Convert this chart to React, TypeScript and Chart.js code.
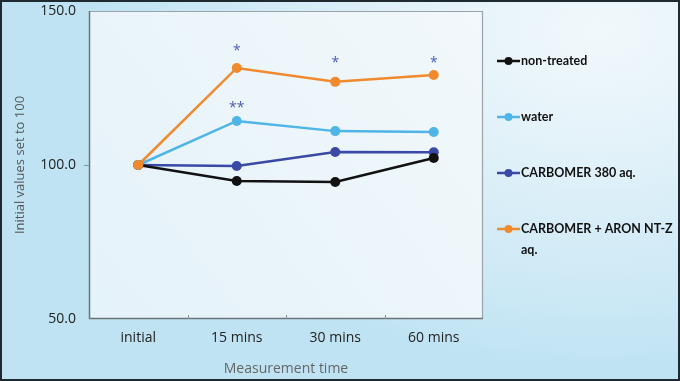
import { useEffect, useRef } from "react";
import { Chart, registerables } from "chart.js";
Chart.register(...registerables);

const categories = ["initial", "15 mins", "30 mins", "60 mins"];
const seriesLabels = ["non-treated", "water", "CARBOMER 380 aq.", "CARBOMER + ARON NT-Z aq."];
const nonTreated = [100, 94.8, 94.5, 102.3];
const water = [100, 114.3, 111.0, 110.7];
const carbomer380 = [100, 99.7, 104.2, 104.1];
const carbomerAron = [100, 131.5, 127.0, 129.2];
const seriesColors = ["#111111", "#4fb4e6", "#3a48a6", "#f08a2c"];
const seriesOrder = [2, 1, 3, 0];
const yMin = 50;
const yMax = 150;
const yStep = 50;
const aronStars = ["", "*", "*", "*"];
const aronStarValues = [null, 138, 134, 134];
const waterStars = ["", "**", "", ""];
const waterStarValues = [null, 119.5, null, null];
const yTitle = "Initial values set to 100";
const xTitle = "Measurement time";

const FONT = "'Open Sans', 'Noto Sans', sans-serif";
const LEGEND_FONT = "Lato, 'Open Sans', sans-serif";

export default function App() {
  const ref = useRef<HTMLCanvasElement | null>(null);
  useEffect(() => {
    if (!ref.current) return;
    const seriesData = [nonTreated, water, carbomer380, carbomerAron];

    const decor = {
      id: "decor",
      beforeDraw(chart: any) {
        const { ctx, chartArea: a } = chart;
        ctx.save();
        const g = ctx.createLinearGradient(a.left, a.bottom, a.right, a.top);
        g.addColorStop(0, "#e4f2f9");
        g.addColorStop(1, "#f2f8fb");
        ctx.fillStyle = g;
        ctx.fillRect(a.left, a.top, a.right - a.left, a.bottom - a.top);
        ctx.restore();
      },
      afterDraw(chart: any) {
        const { ctx, chartArea: a, scales } = chart;
        const x = scales.x;
        const y = scales.y;
        ctx.save();
        ctx.strokeStyle = "#9aa3a8";
        ctx.lineWidth = 1.2;
        ctx.beginPath();
        ctx.moveTo(a.left, a.top + 0.5);
        ctx.lineTo(a.right - 0.5, a.top + 0.5);
        ctx.lineTo(a.right - 0.5, a.bottom);
        ctx.stroke();
        ctx.strokeStyle = "#6d7478";
        ctx.lineWidth = 1.5;
        ctx.beginPath();
        ctx.moveTo(a.left + 0.5, a.top);
        ctx.lineTo(a.left + 0.5, a.bottom - 0.5);
        ctx.lineTo(a.right, a.bottom - 0.5);
        ctx.stroke();
        ctx.strokeStyle = "#8a9296";
        ctx.lineWidth = 1;
        for (let i = 1; i < categories.length; i++) {
          const px = Math.round((x.getPixelForTick(i - 1) + x.getPixelForTick(i)) / 2) + 0.5;
          ctx.beginPath();
          ctx.moveTo(px, a.bottom);
          ctx.lineTo(px, a.bottom - 4);
          ctx.stroke();
        }
        ctx.beginPath();
        for (let v = yMin + yStep; v < yMax; v += yStep) {
          const py = Math.round(y.getPixelForValue(v)) + 0.5;
          ctx.moveTo(a.left - 5, py);
          ctx.lineTo(a.left, py);
        }
        ctx.stroke();
        ctx.fillStyle = "#4a5cb8";
        ctx.font = `14px ${FONT}`;
        ctx.textAlign = "center";
        ctx.textBaseline = "middle";
        const drawStars = (texts: string[], vals: (number | null)[]) => {
          texts.forEach((t, i) => {
            const v = vals[i];
            if (!t || v == null) return;
            ctx.fillText(t, x.getPixelForValue(i), y.getPixelForValue(v) + 3);
          });
        };
        drawStars(aronStars, aronStarValues);
        drawStars(waterStars, waterStarValues);
        const lx = a.right + 14;
        const maxW = 158;
        ctx.font = `bold 12.5px ${LEGEND_FONT}`;
        ctx.textAlign = "left";
        let ly = 61;
        seriesLabels.forEach((label, i) => {
          ctx.strokeStyle = seriesColors[i];
          ctx.fillStyle = seriesColors[i];
          ctx.lineWidth = 2.5;
          ctx.beginPath();
          ctx.moveTo(lx, ly);
          ctx.lineTo(lx + 23, ly);
          ctx.stroke();
          ctx.beginPath();
          ctx.arc(lx + 11.5, ly, 4, 0, Math.PI * 2);
          ctx.fill();
          ctx.fillStyle = "#111";
          const words = label.split(" ");
          const lines: string[] = [];
          let cur = "";
          words.forEach((w) => {
            const test = cur ? cur + " " + w : w;
            if (ctx.measureText(test).width > maxW && cur) {
              lines.push(cur);
              cur = w;
            } else cur = test;
          });
          if (cur) lines.push(cur);
          lines.forEach((ln, k) => ctx.fillText(ln, lx + 24, ly + k * 21));
          ly += 56;
        });
        ctx.restore();
      },
    };

    const chart = new Chart(ref.current, {
      type: "line",
      data: {
        labels: categories,
        datasets: seriesLabels.map((label, i) => ({
          label,
          data: seriesData[i],
          borderColor: seriesColors[i],
          backgroundColor: seriesColors[i],
          borderWidth: 2.5,
          pointRadius: 5,
          pointHoverRadius: 5,
          pointBorderWidth: 0,
          tension: 0,
          order: seriesOrder[i],
        })),
      },
      options: {
        responsive: false,
        animation: false,
        layout: { padding: { top: 11, right: 197, left: 0, bottom: 0 } },
        plugins: { legend: { display: false }, tooltip: { enabled: false } },
        scales: {
          x: {
            offset: true,
            grid: { display: false, drawTicks: false },
            border: { display: false },
            ticks: { color: "#222", font: { size: 14, family: FONT }, padding: 11 },
            title: {
              display: true,
              text: xTitle,
              color: "#666",
              font: { size: 14, family: FONT },
              padding: { top: 0, bottom: 4 },
            },
            afterFit: (s: any) => {
              s.height = 62;
              s.paddingLeft = 0;
              s.paddingRight = 0;
            },
          },
          y: {
            min: yMin,
            max: yMax,
            ticks: {
              stepSize: yStep,
              color: "#222",
              font: { size: 14, family: FONT },
              padding: 13,
              callback: (v: any) => Number(v).toFixed(1),
            },
            grid: { display: false, drawTicks: false },
            border: { display: false },
            title: {
              display: true,
              text: yTitle,
              color: "#555",
              font: { size: 13, family: FONT },
              padding: { top: 12, bottom: 0 },
            },
            afterFit: (s: any) => {
              s.width = 89;
              s.paddingTop = 0;
              s.paddingBottom = 0;
            },
          },
        },
      },
      plugins: [decor],
    });
    return () => chart.destroy();
  }, []);

  return (
    <div
      style={{
        position: "fixed",
        left: 0,
        top: 0,
        width: 680,
        height: 381,
        background:
          "radial-gradient(500px 340px at 88% 8%, #f1f8fb 0%, #e3f2f9 35%, #cbe8f5 80%, #bfe3f3 100%), #bfe3f3",
        boxShadow: "inset 0 0 0 2px #1e2a30",
      }}
    >
      <canvas ref={ref} width={680} height={381} style={{ position: "absolute", left: 0, top: 0 }} />
    </div>
  );
}
